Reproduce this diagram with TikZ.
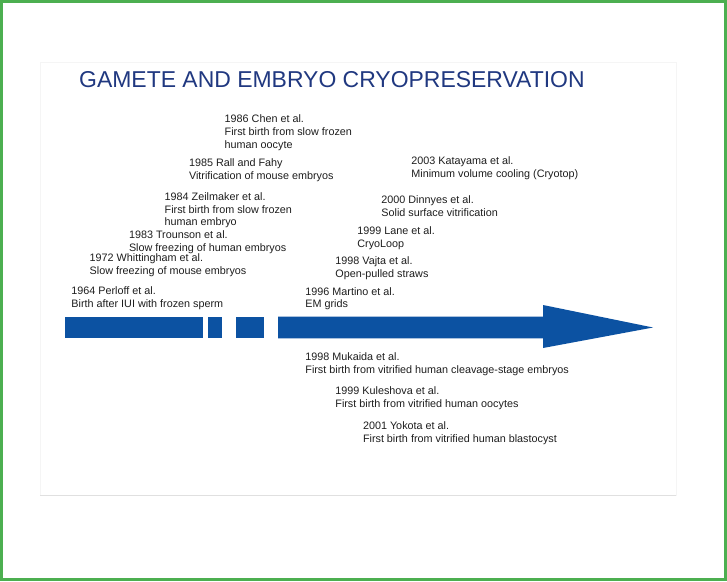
\documentclass[tikz,border=0pt]{standalone}
\usepackage{fontspec}
\setmainfont{Liberation Sans}
\definecolor{frame}{RGB}{76,175,80}
\definecolor{bar}{RGB}{12,82,162}
\definecolor{ttl}{RGB}{32,56,128}
\definecolor{txt}{RGB}{30,30,30}
\begin{document}
\begin{tikzpicture}[x=1pt,y=-1pt,
  entry/.style={anchor=north west,inner sep=0pt,align=left,text=txt,
    font=\fontsize{10.8}{12.6}\selectfont},
  seg/.style={fill=bar,draw=none}]
\useasboundingbox (0,0) rectangle (727,581);
\fill[white] (0,0) rectangle (727,581);
% slide area
\draw[draw=black!4,fill=white] (40,62) rectangle (676,495);
\draw[black!12,line width=0.8] (40,495) -- (676,495);
% frame
\draw[frame,line width=3] (1.5,1.5) rectangle (725.5,579.2);
% title
\node[anchor=base west,inner sep=0pt,text=ttl,font=\fontsize{22.95}{26}\selectfont] (title) at (79,87.4) {GAMETE AND EMBRYO CRYOPRESERVATION};
% timeline bar
\fill[seg] (64.7,316.7) rectangle (202.7,338.3);
\fill[seg] (208,316.7) rectangle (222,338.3);
\fill[seg] (236,316.7) rectangle (264,338.3);
\fill[seg] (278,316.7) -- (543,316.7) -- (543,305) -- (653,327.5) -- (543,348) -- (543,338.3) -- (278,338.3) -- cycle;
% entries (y = first baseline - 8)
\newcommand{\st}{\rule{0pt}{8pt}}
\node[entry] (chen) at (224.5,114.7) {\st1986 Chen et al.\\First birth from slow frozen\\human oocyte};
\node[entry] (rall) at (188.8,158.3) {\st1985 Rall and Fahy\\Vitrification of mouse embryos};
\node[entry] (zeil) at (164.5,192.4) {\st1984 Zeilmaker et al.\\First birth from slow frozen\\human embryo};
\node[entry] (trou) at (128.8,230.2) {\st1983 Trounson et al.\\Slow freezing of human embryos};
\node[entry] (whit) at (89.5,253.6) {\st1972 Whittingham et al.\\Slow freezing of mouse embryos};
\node[entry] (perl) at (71.2,286.6) {\st1964 Perloff et al.\\Birth after IUI with frozen sperm};
\node[entry] (kata) at (411.2,156.3) {\st2003 Katayama et al.\\Minimum volume cooling (Cryotop)};
\node[entry] (dinn) at (381.2,195.4) {\st2000 Dinnyes et al.\\Solid surface vitrification};
\node[entry] (lane) at (357.2,226.4) {\st1999 Lane et al.\\CryoLoop};
\node[entry] (vajt) at (335.2,256.4) {\st1998 Vajta et al.\\Open-pulled straws};
\node[entry] (mart) at (305.2,286.8) {\st1996 Martino et al.\\EM grids};
\node[entry] (muka) at (305.2,352.4) {\st1998 Mukaida et al.\\First birth from vitrified human cleavage-stage embryos};
\node[entry] (kule) at (335.2,386.4) {\st1999 Kuleshova et al.\\First birth from vitrified human oocytes};
\node[entry] (yoko) at (362.8,421.4) {\st2001 Yokota et al.\\First birth from vitrified human blastocyst};
\end{tikzpicture}
\end{document}
